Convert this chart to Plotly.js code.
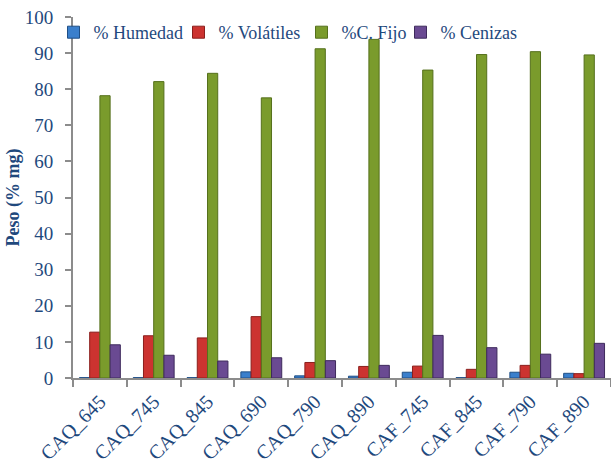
<!DOCTYPE html>
<html>
<head>
<meta charset="utf-8">
<script src="https://cdn.plot.ly/plotly-3.0.1.min.js"></script>
<style>html,body{margin:0;padding:0;background:#fff;}#chart{width:611px;height:468px;}</style>
</head>
<body>
<div id="chart"></div>
<script>
const categories = ["CAQ_645","CAQ_745","CAQ_845","CAQ_690","CAQ_790","CAQ_890","CAF_745","CAF_845","CAF_790","CAF_890"];
const humedad   = [0.1, 0.1, 0.1, 1.7, 0.6, 0.5, 1.6, 0.1, 1.6, 1.3];
const volatiles = [12.7, 11.7, 11.1, 17.0, 4.3, 3.2, 3.3, 2.4, 3.5, 1.2];
const cfijo     = [78.2, 82.1, 84.4, 77.6, 91.2, 93.8, 85.3, 89.6, 90.4, 89.5];
const cenizas   = [9.2, 6.3, 4.7, 5.6, 4.8, 3.5, 11.8, 8.4, 6.6, 9.6];
const seriesNames = ["% Humedad", "% Volátiles", "%C. Fijo", "% Cenizas"];
const seriesColors = ["#3A7FCC", "#CC3330", "#7A9B2C", "#6A4A92"];
const seriesLines = ["#1F4F86", "#8A1F1C", "#55701C", "#3E2A5C"];
const seriesData = [humedad, volatiles, cfijo, cenizas];

const serif = "Liberation Serif, Times New Roman, serif";
const textColor = "#1F497D";
const legendIds = ["legend", "legend2", "legend3", "legend4"];
const legendTextStart = [95, 220, 343, 442];

const traces = seriesData.map((vals, i) => ({
  type: "bar",
  x: categories,
  y: vals,
  name: seriesNames[i],
  legend: legendIds[i],
  marker: {color: seriesColors[i], line: {color: seriesLines[i], width: 1}},
  hoverinfo: "x+y+name"
}));

const layout = {
  width: 611, height: 468,
  margin: {l: 73, r: 0, t: 17, b: 90},
  paper_bgcolor: "#ffffff",
  plot_bgcolor: "rgba(0,0,0,0)",
  barmode: "group",
  bargap: 0.24,
  bargroupgap: 0,
  showlegend: true,
  font: {family: serif, color: textColor},
  xaxis: {
    type: "category",
    tickangle: -45,
    tickson: "boundaries",
    ticks: "outside",
    ticklen: 7,
    tickwidth: 2,
    tickcolor: "#8C8C8C",
    ticklabelstandoff: 2,
    showline: true,
    linecolor: "#8C8C8C",
    linewidth: 2,
    showgrid: false,
    tickfont: {family: serif, size: 20, color: textColor},
    automargin: false,
    fixedrange: true
  },
  yaxis: {
    range: [0, 100],
    dtick: 10,
    ticks: "outside",
    ticklen: 6,
    tickwidth: 2,
    tickcolor: "#8C8C8C",
    ticklabelstandoff: 8,
    showline: true,
    linecolor: "#8C8C8C",
    linewidth: 2,
    showgrid: false,
    zeroline: false,
    tickfont: {family: serif, size: 19, color: textColor},
    title: {text: "<b>Peso (% mg)</b>", font: {family: serif, size: 18, color: textColor}, standoff: 0},
    automargin: false,
    fixedrange: true
  }
};

legendIds.forEach((id, i) => {
  layout[id] = {
    orientation: "h",
    x: (legendTextStart[i] - 41.5 - 73) / 538, xanchor: "left",
    y: 1 + 3 / 361, yanchor: "top",
    bgcolor: "rgba(0,0,0,0)",
    font: {family: serif, size: 18, color: textColor},
    itemwidth: 30
  };
});

Plotly.newPlot("chart", traces, layout, {displayModeBar: false, staticPlot: true});
</script>
</body>
</html>
